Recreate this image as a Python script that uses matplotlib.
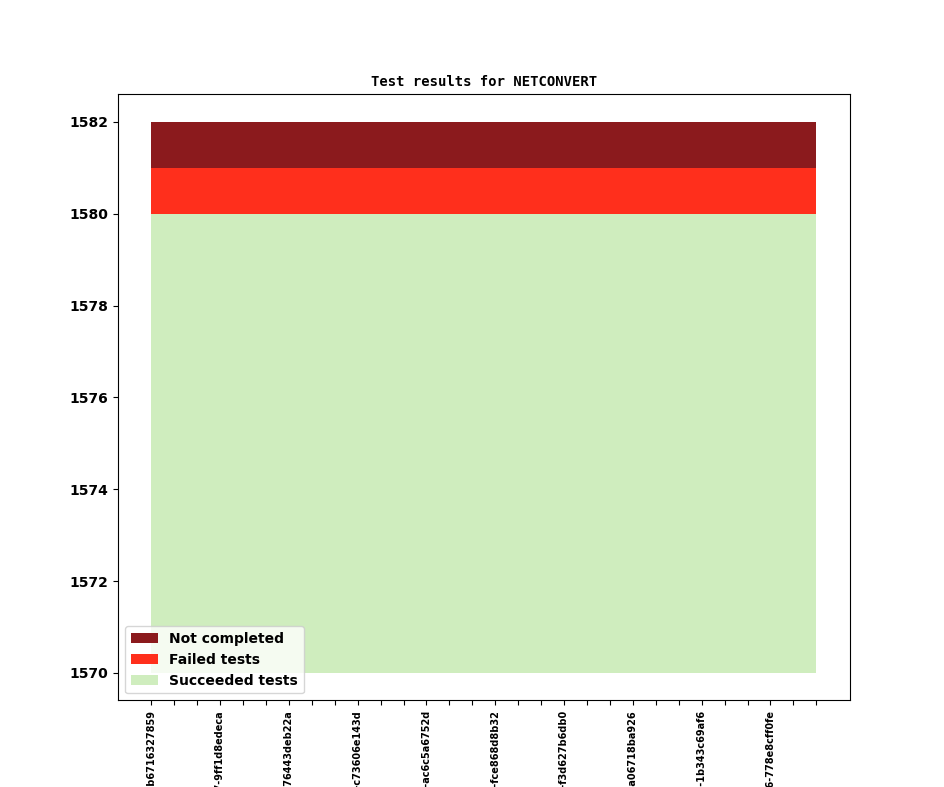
import matplotlib
matplotlib.use("Agg")
import matplotlib.pyplot as plt
import numpy as np

# commit labels (only every third one is shown on the axis)
hashes = ["b6716327859", "3e1a4c9d0f2", "8a2b7c11de4",
          "9ff1d8edeca", "0c41b9e2a73", "d5e8f3a61b0",
          "76443deb22a", "1f9c2e7a8b4", "4ad03b6c9e1",
          "c73606e143d", "9b2e41f7c05", "e07a5d3b8c2",
          "ac6c5a6752d", "25f8c1e9a3d", "b3d7e0a4f16",
          "fce868d8b32", "6e1b9a2c7d4", "a8c4f05e3b9",
          "f3d627b6db0", "12e9d7c4a5b", "7c0b3f8e2d1",
          "a06718ba926", "5d2a8e1f9c7", "e4b6c3a0d82",
          "1b343c69af6", "93f1a7d5c2e", "0a8e4b2d6f3",
          "778e8cff0fe", "c2d9a6e1b47", "4f7b0c3e9a5"]
revisions = ["1201", "1202", "1203", "1207", "1208", "1209",
             "1212", "1213", "1214", "1218", "1219", "1220",
             "1222", "1223", "1224", "1229", "1230", "1231",
             "1233", "1234", "1235", "1238", "1239", "1240",
             "1242", "1243", "1244", "1246", "1247", "1248"]
builds = list(range(30))
succeeded = [1580] * 30
failed = [1] * 30
not_completed = [1] * 30
base = 1570

labels = ["v1_19_0+%s-%s" % (r, h) for r, h in zip(revisions, hashes)]

x = np.array(builds)
s = np.array(succeeded)
f = s + np.array(failed)
n = f + np.array(not_completed)

fig, ax = plt.subplots(figsize=(9.44, 7.87), dpi=100)
ax.fill_between(x, base, s, color="#cfedbe", lw=0, label="Succeeded tests")
ax.fill_between(x, s, f, color="#ff2f1c", lw=0, label="Failed tests")
ax.fill_between(x, f, n, color="#8b1a1d", lw=0, label="Not completed")

ax.set_xticks(x)
ax.set_xticklabels([l if i % 3 == 0 else "" for i, l in enumerate(labels)],
                   rotation=90, fontsize=7, fontweight="bold")
for t in ax.get_yticklabels():
    t.set_fontweight("bold")
    t.set_fontsize(10)
ax.set_title("Test results for NETCONVERT", fontsize=10, fontweight="bold",
             family="DejaVu Sans Mono")

h, l = ax.get_legend_handles_labels()
ax.legend(h[::-1], l[::-1], loc="lower left", prop={"weight": "bold", "size": 10})

fig.savefig("out.png", dpi=100)
